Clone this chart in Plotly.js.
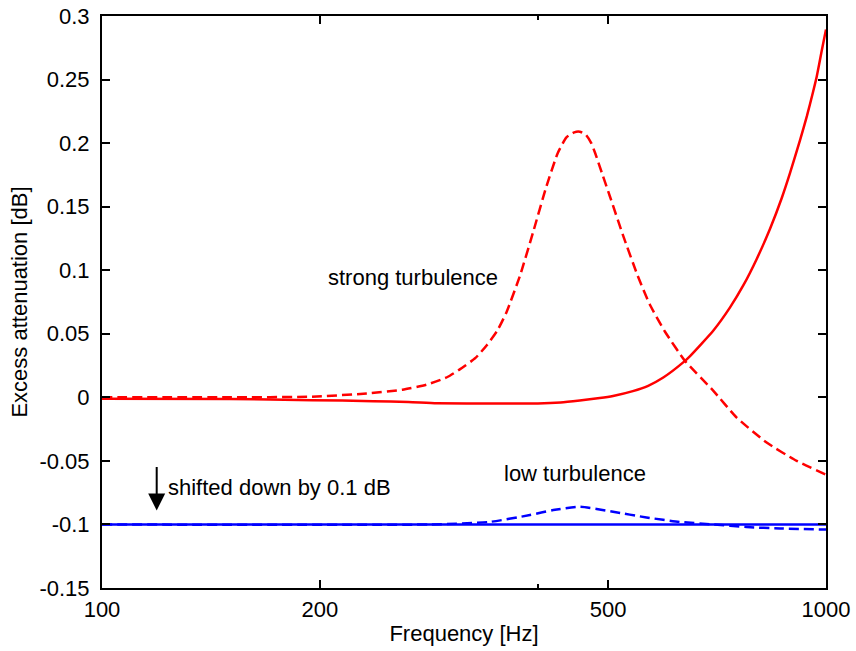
<!DOCTYPE html>
<html>
<head>
<meta charset="utf-8">
<script src="https://cdn.plot.ly/plotly-3.0.1.min.js"></script>
<style>
  html, body { margin: 0; padding: 0; background: #fff; }
  #chart { width: 856px; height: 651px; }
</style>
</head>
<body>
<div id="chart"></div>
<script>
// Strong turbulence, dashed (peaked curve)
const strongDashedF = [100, 150, 195, 232, 260, 281, 300, 312, 328, 340, 352, 362, 378, 394, 411, 426, 438, 449, 457, 466, 474, 480, 492, 503, 525, 549, 571, 599, 639, 698, 752, 828, 911, 1000];
const strongDashedV = [0, 0, 0.0005, 0.003, 0.006, 0.010, 0.016, 0.022, 0.031, 0.041, 0.053, 0.067, 0.096, 0.130, 0.166, 0.192, 0.2045, 0.2085, 0.209, 0.2065, 0.200, 0.192, 0.174, 0.158, 0.1266, 0.0962, 0.073, 0.0518, 0.0285, 0.0055, -0.0157, -0.0356, -0.050, -0.0608];

// Strong turbulence, solid (rising at high frequency)
const strongSolidF = [100, 150, 195, 237, 265, 290, 350, 400, 430, 457, 487, 508, 541, 568, 596, 635, 649, 699, 737, 769, 802, 837, 869, 892, 921, 941, 960, 971, 986, 1000];
const strongSolidV = [-0.0012, -0.0013, -0.0022, -0.003, -0.0036, -0.0047, -0.0049, -0.0049, -0.0041, -0.0025, -0.0006, 0.0011, 0.0049, 0.0091, 0.0156, 0.0275, 0.0325, 0.0526, 0.0708, 0.0882, 0.1087, 0.1326, 0.157, 0.1765, 0.2026, 0.2212, 0.2406, 0.2524, 0.272, 0.2894];

// Low turbulence (shifted down by 0.1 dB)
const lowSolidF = [100, 1000];
const lowSolidV = [-0.1, -0.1];
const lowDashedF = [100, 284, 343, 390, 420, 457, 508, 565, 628, 699, 777, 864, 1000];
const lowDashedV = [-0.1, -0.1, -0.098, -0.0926, -0.0887, -0.0861, -0.090, -0.0945, -0.098, -0.100, -0.102, -0.1032, -0.104];

// Axis ticks
const xTickVals = [100, 200, 500, 1000];
const xTickText = ['100', '200', '500', '1000'];
const xMinorTickVals = [400];
const yTickVals = [-0.15, -0.1, -0.05, 0, 0.05, 0.1, 0.15, 0.2, 0.25, 0.3];
const yTickText = ['-0.15', '-0.1', '-0.05', '0', '0.05', '0.1', '0.15', '0.2', '0.25', '0.3'];

const RED = '#ff0000';
const BLUE = '#0000ff';
const FONT = 'Liberation Sans, Arial, Helvetica, sans-serif';
const FS = 22;

const traces = [
  { x: lowSolidF, y: lowSolidV, mode: 'lines', line: { color: BLUE, width: 2.5 } },
  { x: lowDashedF, y: lowDashedV, mode: 'lines', line: { color: BLUE, width: 2.5, dash: '10px,5px', shape: 'spline', smoothing: 0.6 } },
  { x: strongSolidF, y: strongSolidV, mode: 'lines', line: { color: RED, width: 2.5, shape: 'spline', smoothing: 0.5 } },
  { x: strongDashedF, y: strongDashedV, mode: 'lines', line: { color: RED, width: 2.5, dash: '10px,5px', shape: 'spline', smoothing: 0.5 } }
];

const layout = {
  width: 856, height: 651,
  margin: { l: 102, r: 30, t: 16, b: 63 },
  paper_bgcolor: '#fff', plot_bgcolor: '#fff',
  showlegend: false,
  font: { family: FONT, size: FS, color: '#000' },
  xaxis: {
    type: 'log', range: [2, 3],
    tickmode: 'array', tickvals: xTickVals, ticktext: xTickText,
    ticks: 'inside', ticklen: 8, tickwidth: 2, tickcolor: '#000',
    minor: { tickmode: 'array', tickvals: xMinorTickVals, ticks: 'inside', ticklen: 4, tickwidth: 2, tickcolor: '#000', showgrid: false },
    showline: true, linecolor: '#000', linewidth: 2, mirror: 'ticks',
    showgrid: false, zeroline: false,
    ticklabelstandoff: 1,
    tickfont: { family: FONT, size: FS, color: '#000' },
    title: { text: 'Frequency [Hz]', font: { family: FONT, size: FS, color: '#000' }, standoff: 4 }
  },
  yaxis: {
    range: [-0.15, 0.3],
    tickmode: 'array', tickvals: yTickVals, ticktext: yTickText,
    ticks: 'inside', ticklen: 8, tickwidth: 2, tickcolor: '#000',
    showline: true, linecolor: '#000', linewidth: 2, mirror: 'ticks',
    showgrid: false, zeroline: false,
    ticklabelstandoff: 6,
    tickfont: { family: FONT, size: FS, color: '#000' },
    title: { text: 'Excess attenuation [dB]', font: { family: FONT, size: FS, color: '#000' }, standoff: 6 }
  },
  annotations: [
    { x: Math.log10(269), y: 0.094, xref: 'x', yref: 'y', text: 'strong turbulence', showarrow: false,
      xanchor: 'center', yanchor: 'middle', font: { family: FONT, size: FS, color: '#000' } },
    { x: Math.log10(450), y: -0.060, xref: 'x', yref: 'y', text: 'low turbulence', showarrow: false,
      xanchor: 'center', yanchor: 'middle', font: { family: FONT, size: FS, color: '#000' } },
    { x: Math.log10(122.6), y: -0.071, xref: 'x', yref: 'y', text: 'shifted down by 0.1 dB', showarrow: false,
      xanchor: 'left', yanchor: 'middle', font: { family: FONT, size: FS, color: '#000' } },
    { x: Math.log10(119), y: -0.089, xref: 'x', yref: 'y', text: '', showarrow: true,
      ax: 0, ay: -45, arrowhead: 2, arrowsize: 1.7, arrowwidth: 2, arrowcolor: '#000' }
  ]
};

Plotly.newPlot('chart', traces, layout, { displayModeBar: false, staticPlot: true });
</script>
</body>
</html>
